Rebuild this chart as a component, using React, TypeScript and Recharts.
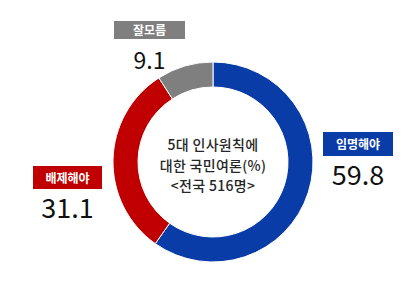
import { PieChart, Pie, Cell } from "recharts";

const categories = ["임명해야", "배제해야", "잘모름"];
const values = [59.8, 31.1, 9.1];
const palette = ["#0a3ca8", "#c00000", "#7f7f7f"];
const centerLines = ["5대 인사원칙에", "대한 국민여론(%)", "<전국 516명>"];

// label boxes (tag + value), placed by hand like the original slide
const labelPos = [
  { left: 323, top: 132, width: 70, height: 24, valueTop: 160, valueSize: 27 },
  { left: 33, top: 166, width: 69, height: 23, valueTop: 193, valueSize: 27 },
  { left: 114, top: 21, width: 71, height: 18, valueTop: 48, valueSize: 23 },
];

const font = "'Noto Sans CJK KR', 'Noto Sans', sans-serif";

export default function App() {
  const data = categories.map((name, i) => ({ name, value: values[i] }));

  return (
    <div
      style={{
        position: "absolute",
        left: 0,
        top: 0,
        width: 410,
        height: 285,
        background: "#ffffff",
        fontFamily: font,
      }}
    >
      <PieChart width={410} height={285} margin={{ top: 0, right: 0, bottom: 0, left: 0 }}>
        <Pie
          data={data}
          dataKey="value"
          nameKey="name"
          cx={213}
          cy={162}
          innerRadius={75}
          outerRadius={100}
          startAngle={90}
          endAngle={-270}
          stroke="#ffffff"
          strokeWidth={1}
          isAnimationActive={false}
        >
          {data.map((_, i) => (
            <Cell key={i} fill={palette[i]} />
          ))}
        </Pie>
      </PieChart>

      {data.map((d, i) => {
        const p = labelPos[i];
        return (
          <div key={d.name}>
            <div
              style={{
                position: "absolute",
                left: p.left,
                top: p.top,
                width: p.width,
                height: p.height,
                background: palette[i],
                color: "#ffffff",
                fontSize: 12,
                fontWeight: 700,
                lineHeight: `${p.height}px`,
                textAlign: "center",
              }}
            >
              {d.name}
            </div>
            <div
              style={{
                position: "absolute",
                left: p.left - 20,
                top: p.valueTop,
                width: p.width + 40,
                textAlign: "center",
                fontSize: p.valueSize,
                lineHeight: 1,
                color: "#111111",
              }}
            >
              {d.value.toFixed(1)}
            </div>
          </div>
        );
      })}

      <div
        style={{
          position: "absolute",
          left: 138,
          top: 134,
          width: 150,
          textAlign: "center",
          fontSize: 14,
          lineHeight: "20.5px",
          color: "#262626",
          fontWeight: 500,
          letterSpacing: 0.3,
        }}
      >
        {centerLines.map((t) => (
          <div key={t} style={{ height: 20.5 }}>
            {t}
          </div>
        ))}
      </div>
    </div>
  );
}
